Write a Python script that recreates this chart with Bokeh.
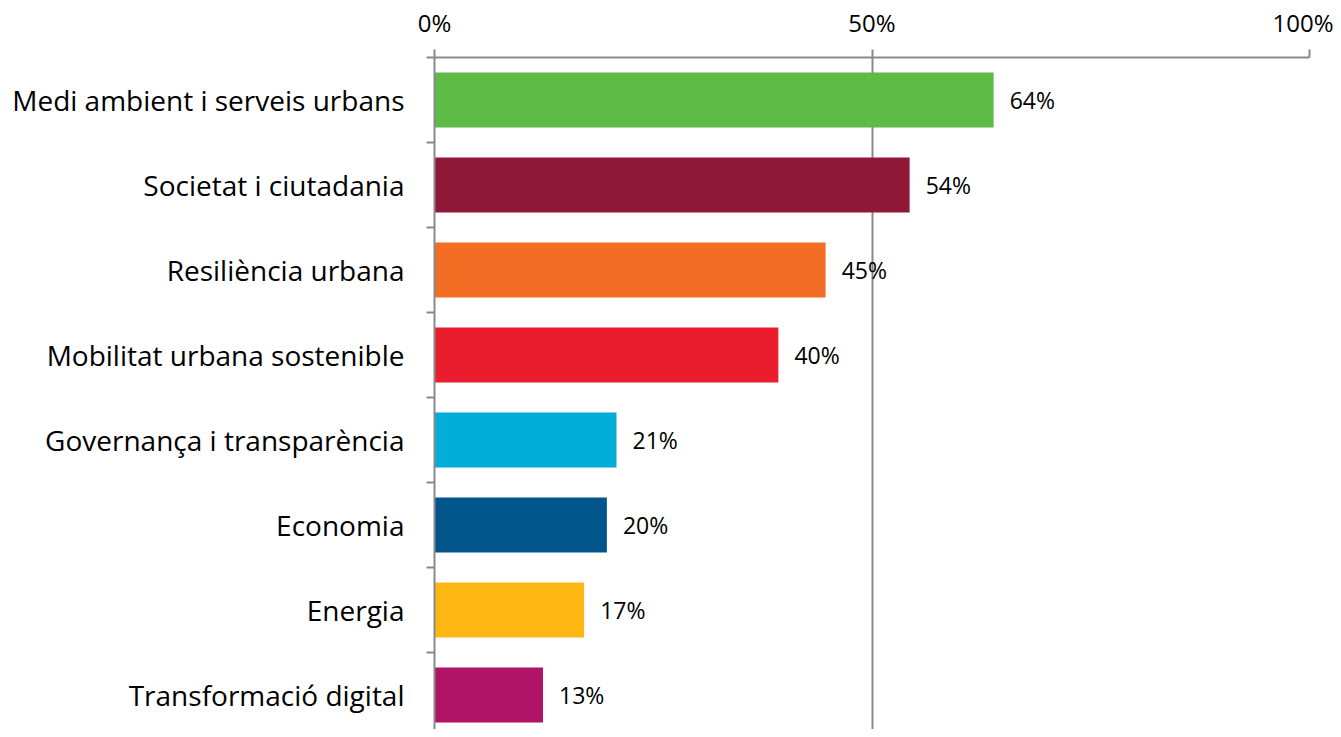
from bokeh.plotting import figure
from bokeh.models import ColumnDataSource, FixedTicker, Range1d
from bokeh.embed import file_html
from bokeh.resources import INLINE
from bokeh.core.properties import value

categories = ["Medi ambient i serveis urbans", "Societat i ciutadania", "Resiliència urbana",
              "Mobilitat urbana sostenible", "Governança i transparència", "Economia",
              "Energia", "Transformació digital"]
values = [63.9, 54.3, 44.7, 39.3, 20.8, 19.7, 17.1, 12.4]
labels = ["64%", "54%", "45%", "40%", "21%", "20%", "17%", "13%"]
colors = ["#5DBB46", "#8F1838", "#F36D25", "#EB1C2D", "#00AED9", "#00558A", "#FDB713", "#B11467"]
x_ticks = [0, 50, 100]
x_tick_labels = ["0%", "50%", "100%"]

n = len(categories)
ypos = [n - i - 0.5 for i in range(n)]
src = ColumnDataSource(dict(y=ypos, v=values, lab=labels, c=colors))

FONT = "Open Sans"
GREY = "#898989"

p = figure(width=1333, height=729, output_backend="svg", toolbar_location=None,
           x_range=Range1d(0, 100), y_range=Range1d(0.094, n), x_axis_location="above",
           min_border_left=434, min_border_right=24, min_border_top=57, min_border_bottom=0)
p.outline_line_color = None
p.background_fill_color = "white"
p.border_fill_color = "white"

p.hbar(y="y", right="v", left=0, height=0.647, fill_color="c", line_color=None, source=src)
p.text(x="v", y="y", text="lab", x_offset=16, text_align="left", text_baseline="middle",
       text_font=value(FONT), text_font_size="23px", text_color="black", source=src)

xa = p.xaxis[0]
xa.ticker = FixedTicker(ticks=x_ticks)
xa.major_label_overrides = {t: l for t, l in zip(x_ticks, x_tick_labels)}
xa.axis_line_color = GREY
xa.axis_line_width = 2
xa.major_tick_line_color = GREY
xa.major_tick_line_width = 2
xa.major_tick_out = 8
xa.major_tick_in = 0
xa.minor_tick_line_color = None
xa.major_label_text_font = FONT
xa.major_label_text_font_size = "24px"
xa.major_label_text_color = "black"
xa.major_label_standoff = 11

ya = p.yaxis[0]
ya.ticker = FixedTicker(ticks=ypos, minor_ticks=list(range(n + 1)))
ya.major_label_overrides = {y: c for y, c in zip(ypos, categories)}
ya.axis_line_color = GREY
ya.axis_line_width = 2
ya.major_tick_line_color = None
ya.major_tick_out = 0
ya.major_tick_in = 0
ya.minor_tick_line_color = GREY
ya.minor_tick_line_width = 2
ya.minor_tick_out = 8
ya.minor_tick_in = 0
ya.major_label_text_font = FONT
ya.major_label_text_font_size = "28px"
ya.major_label_text_color = "black"
ya.major_label_standoff = 22

p.xgrid.ticker = FixedTicker(ticks=[50, 100])
p.xgrid.grid_line_color = GREY
p.xgrid.grid_line_width = 2
p.ygrid.grid_line_color = None

open("out.html", "w").write(file_html(p, INLINE))
